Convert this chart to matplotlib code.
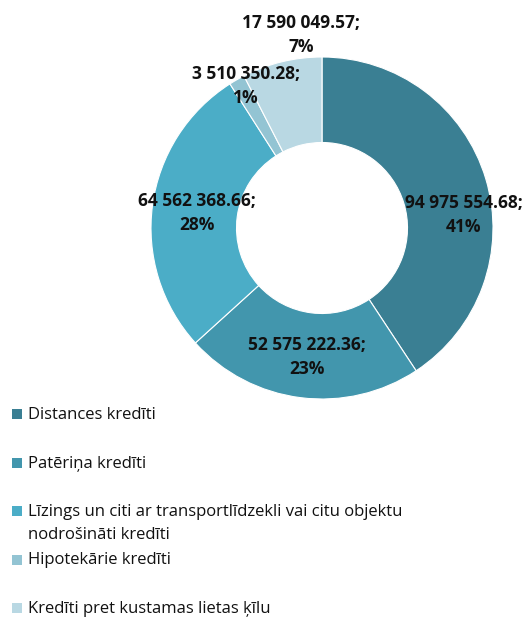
import numpy as np
import matplotlib.pyplot as plt
from matplotlib.patches import Rectangle

categories = [
    "Distances kredīti",
    "Patēriņa kredīti",
    "Līzings un citi ar transportlīdzekli vai citu objektu\nnodrošināti kredīti",
    "Hipotekārie kredīti",
    "Kredīti pret kustamas lietas ķīlu",
]
values = [94975554.68, 52575222.36, 64562368.66, 3510350.28, 17590049.57]
value_labels = ["94 975 554.68", "52 575 222.36", "64 562 368.66", "3 510 350.28", "17 590 049.57"]
pct_labels = ["41%", "23%", "28%", "1%", "7%"]
colors = ["#3a7f93", "#4296ad", "#4badc7", "#93c4d3", "#b9d8e3"]

# label anchor points in pixels (x, y from top)
label_pos = [(464, 215), (307, 357), (197, 213), (246, 86), (301, 35)]

W, H = 530, 617
fig = plt.figure(figsize=(W / 100, H / 100), dpi=100)
ax = fig.add_axes([0, 0, 1, 1])

cx, cy, r = 322, 228, 171
wedges, _ = ax.pie(values, colors=colors, startangle=90, counterclock=False,
                   center=(cx, H - cy), radius=r,
                   wedgeprops=dict(width=r * 0.5, edgecolor="white", linewidth=0.8))
ax.set_xlim(0, W)
ax.set_ylim(0, H)
ax.set_aspect("equal")
ax.axis("off")

for vl, pct, (x, y) in zip(value_labels, pct_labels, label_pos):
    ax.text(x, H - y, vl + ";\n" + pct, ha="center", va="center",
            fontsize=12.5, fontweight="bold", color="#111111",
            family="Open Sans", linespacing=1.4)

# legend drawn by hand
y0, step = 414, 48.5
for i, (lab, col) in enumerate(zip(categories, colors)):
    y = y0 + i * step
    ax.add_patch(Rectangle((12, H - y - 5), 10, 10, color=col, lw=0))
    ax.text(28, H - y + 7, lab, ha="left", va="top", fontsize=12,
            family="Open Sans", color="#111111", linespacing=1.55)

fig.savefig("out.png", dpi=100)
